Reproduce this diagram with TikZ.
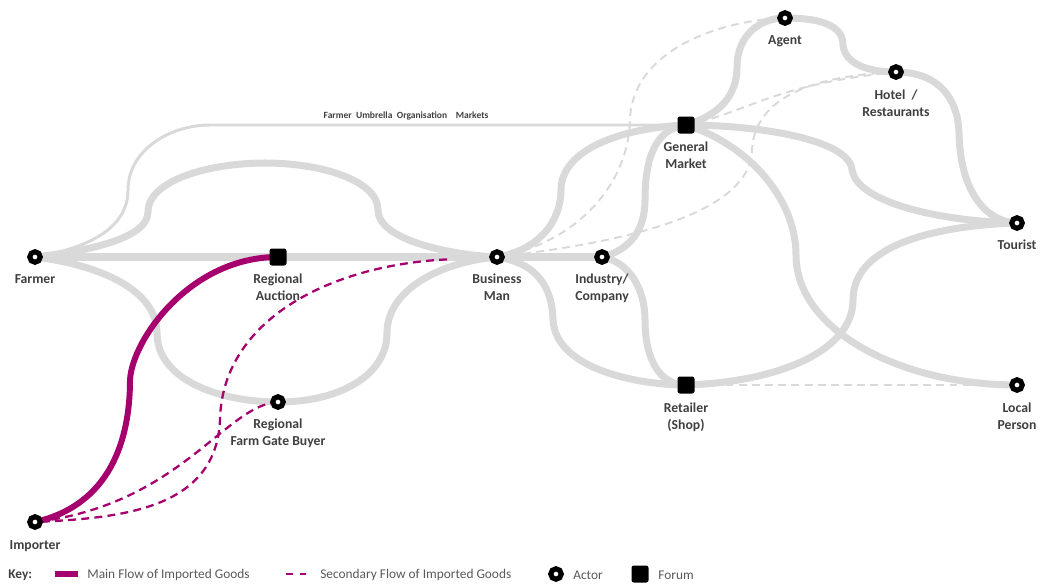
\documentclass[tikz,border=0pt]{standalone}
\usepackage{fontspec}
\setmainfont{Carlito}
\pgfdeclarelayer{background}
\pgfsetlayers{background,main}
\definecolor{roadgrey}{HTML}{D9D9D9}
\definecolor{flowmag}{HTML}{A5006E}
\definecolor{labelgrey}{HTML}{3F3F3F}
\definecolor{legendgrey}{HTML}{595959}
\begin{document}
\begin{tikzpicture}[x=0.02cm,y=-0.02cm,
  actor/.style={circle,draw=black,fill=white,line width=2.9pt,minimum size=0.21cm,inner sep=0pt},
  forum/.style={rectangle,fill=black,rounded corners=1.3pt,minimum size=0.34cm,inner sep=0pt},
  lbl/.style={anchor=north,align=center,inner sep=0pt,font=\fontsize{7.8}{9.6}\selectfont\bfseries,text=labelgrey},
  umb/.style={inner sep=0pt,font=\fontsize{5.4}{6}\selectfont\bfseries,text=labelgrey},
  road/.style={draw=roadgrey,line width=4pt},
  thinroad/.style={draw=roadgrey,line width=1.7pt},
  dashroad/.style={draw=roadgrey,line width=1.1pt,dash pattern=on 4.5pt off 3pt},
  mainflow/.style={draw=flowmag,line width=3.4pt},
  secflow/.style={draw=flowmag,line width=1.3pt,dash pattern=on 4.5pt off 3pt},
  legtext/.style={anchor=west,inner sep=0pt,font=\fontsize{7.6}{9.6}\selectfont,text=legendgrey},
  legkey/.style={anchor=west,inner sep=0pt,font=\fontsize{7.6}{9.6}\selectfont\bfseries,text=labelgrey}
]
\useasboundingbox (0,0) rectangle (1040,585);

% ---- nodes
\node[actor] (farmer) at (35,257) {};
\node[forum] (auction) at (278,257) {};
\node[actor] (bm) at (497,257) {};
\node[actor] (industry) at (602,257) {};
\node[forum] (gm) at (686,125) {};
\node[actor] (agent) at (785,18) {};
\node[actor] (hotel) at (896,72) {};
\node[actor] (tourist) at (1017,223) {};
\node[forum] (retailer) at (686,385) {};
\node[actor] (local) at (1017,385) {};
\node[actor] (fgb) at (278,402) {};
\node[actor] (importer) at (35,522) {};

% ---- labels
\node[lbl] (farmerlbl) at (35,274) {Farmer};
\node[lbl] (auctionlbl) at (278,274) {Regional\\Auction};
\node[lbl] (bmlbl) at (497,274) {Business\\Man};
\node[lbl] (industrylbl) at (602,274) {Industry/\\Company};
\node[lbl] (gmlbl) at (686,142) {General\\Market};
\node[lbl] (agentlbl) at (785,35) {Agent};
\node[lbl] (hotellbl) at (896,90) {Hotel~~/\\Restaurants};
\node[lbl] (touristlbl) at (1017,240) {Tourist};
\node[lbl] (retailerlbl) at (686,403) {Retailer\\(Shop)};
\node[lbl] (locallbl) at (1017,403) {Local\\Person};
\node[lbl] (fgblbl) at (278,419) {Regional\\Farm Gate Buyer};
\node[lbl] (importerlbl) at (35,540) {Importer};
\node[umb] (umblbl) at (406,116) {Farmer\hspace{2.5pt}Umbrella\hspace{2.5pt}Organisation\hspace{5pt}Markets};

% ---- legend
\node[legkey] (key) at (8,575) {Key:};
\coordinate (lm1) at (55,574);
\coordinate (lm2) at (78,574);
\node[legtext] (lmtext) at (87,575) {Main Flow of Imported Goods};
\coordinate (ls1) at (286,574);
\coordinate (ls2) at (306,574);
\node[legtext] (lstext) at (320,575) {Secondary Flow of Imported Goods};
\node[actor] (legactor) at (556,574) {};
\node[legtext] (latext) at (573,575) {Actor};
\node[forum] (legforum) at (640,574) {};
\node[legtext] (lftext) at (658,575) {Forum};
\draw[draw=flowmag,line width=3.8pt] (lm1) -- (lm2);
\draw[draw=flowmag,line width=1.3pt,dash pattern=on 4pt off 4pt] (ls1) -- (ls2);

\begin{pgfonlayer}{background}
% thin umbrella road
\draw[thinroad] (farmer.center) .. controls (95,247) and (128,225) .. (128,190)
   .. controls (128,150) and (170,125) .. (210,125) -- (gm.center);
% dashed grey
\draw[dashroad] (bm.center) .. controls (570,245) and (628,190) .. (630,120)
   .. controls (632,50) and (720,20) .. (agent.center);
\draw[dashroad] (bm.center) .. controls (600,245) and (750,220) .. (752,150)
   .. controls (755,90) and (830,75) .. (hotel.center);
\draw[dashroad] (gm.center) .. controls (750,112) and (770,85) .. (hotel.center);
\draw[dashroad] (retailer.center) -- (local.center);
% thick grey roads
\draw[road] (farmer.center) -- (auction.center) -- (bm.center) -- (industry.center);
\draw[road] (farmer.center) .. controls (80,252) and (148,240) .. (148,212)
   .. controls (148,180) and (210,163) .. (265,163)
   .. controls (320,163) and (378,180) .. (378,210)
   .. controls (378,240) and (450,255) .. (bm.center);
\draw[road] (farmer.center) .. controls (100,265) and (157,290) .. (157,333)
   .. controls (157,380) and (220,402) .. (fgb.center)
   .. controls (340,402) and (387,375) .. (387,333)
   .. controls (387,290) and (440,262) .. (bm.center);
\draw[road] (bm.center) .. controls (540,250) and (561,220) .. (561,190)
   .. controls (561,150) and (620,128) .. (gm.center);
\draw[road] (industry.center) .. controls (630,250) and (645,230) .. (645,200)
   .. controls (645,150) and (660,128) .. (gm.center);
\draw[road] (gm.center) .. controls (720,115) and (737,95) .. (737,67)
   .. controls (737,35) and (760,18) .. (agent.center);
\draw[road] (agent.center) .. controls (820,18) and (843,25) .. (843,45)
   .. controls (845,65) and (870,72) .. (hotel.center);
\draw[road] (hotel.center) .. controls (940,72) and (958,100) .. (959,133)
   .. controls (960,190) and (985,222) .. (tourist.center);
\draw[road] (gm.center) .. controls (760,125) and (850,140) .. (852,170)
   .. controls (858,205) and (950,222) .. (tourist.center);
\draw[road] (gm.center) .. controls (750,145) and (796,200) .. (796,255)
   .. controls (796,330) and (900,385) .. (local.center);
\draw[road] (retailer.center) .. controls (780,382) and (853,350) .. (853,300)
   .. controls (853,240) and (950,225) .. (tourist.center);
\draw[road] (bm.center) .. controls (530,262) and (552,280) .. (553,320)
   .. controls (556,370) and (640,385) .. (retailer.center);
\draw[road] (industry.center) .. controls (630,262) and (645,290) .. (645,320)
   .. controls (645,360) and (660,385) .. (retailer.center);
% magenta flows
\draw[secflow,shorten <=1cm] (bm.center) .. controls (330,265) and (222,320) .. (220,420)
   .. controls (216,510) and (120,518) .. (importer.center);
\draw[secflow] (fgb.center) .. controls (225,405) and (180,505) .. (importer.center);
\draw[mainflow] (importer.center) .. controls (110,505) and (130,440) .. (130,380)
   .. controls (132,340) and (190,257) .. (auction.center);
\end{pgfonlayer}
\end{tikzpicture}
\end{document}
